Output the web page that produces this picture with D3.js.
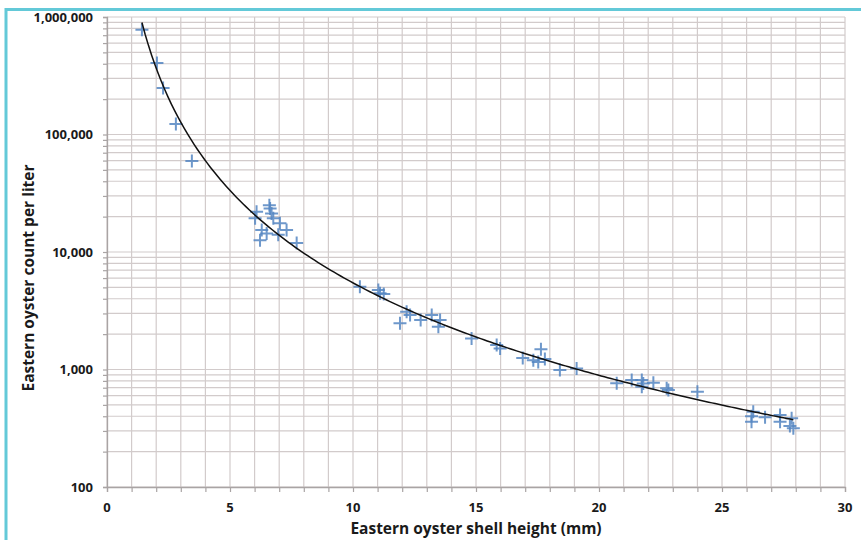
<!DOCTYPE html>
<html><head><meta charset="utf-8">
<script src="https://cdn.jsdelivr.net/npm/d3@7"></script>
<style>body{margin:0;background:#fff}svg{display:block}</style>
</head><body>
<svg id="c" width="861" height="540"></svg>
<script>
const shellHeight = [1.42, 2.03, 2.28, 2.80, 3.45,
  6.08, 6.02, 6.63, 6.69, 6.76, 6.29, 6.22, 6.49, 7.03, 7.30, 6.96, 7.71, 6.60,
  10.28, 11.03, 11.10, 11.25, 11.91, 12.18, 12.32, 12.75, 13.20, 13.54, 13.47,
  14.82, 15.84, 15.98, 16.90, 17.33, 17.53, 17.64, 17.80, 18.41, 19.09,
  20.72, 21.33, 21.74, 21.74, 21.80, 22.21, 22.75, 22.82, 24.00,
  26.20, 26.27, 26.20, 26.75, 27.36, 27.36, 27.83, 27.76, 27.90];
const countPerLiter = [780000, 406000, 249000, 123000, 59500,
  22000, 19400, 23500, 21300, 19400, 15400, 12600, 14400, 17600, 15400, 14000, 11900, 25000,
  5070, 4750, 4450, 4400, 2470, 3100, 2910, 2640, 2910, 2640, 2310,
  1840, 1620, 1510, 1250, 1200, 1160, 1490, 1230, 990, 1020,
  763, 814, 814, 714, 760, 772, 692, 669, 647,
  359, 437, 400, 392, 410, 359, 384, 330, 316];
const xTicks = [0, 5, 10, 15, 20, 25, 30];
const yTicks = [100, 1000, 10000, 100000, 1000000];
const xTitle = "Eastern oyster shell height (mm)";
const yTitle = "Eastern oyster count per liter";

const svg = d3.select("#c");
const L = 107, R = 845, T = 17, B = 487;
const x = d3.scaleLinear().domain([0, 30]).range([L, R]);
const y = d3.scaleLog().domain([100, 1000000]).range([B, T]);

// frame
svg.append("rect").attr("x", 6).attr("y", 9.5).attr("width", 900).attr("height", 600)
  .attr("fill", "none").attr("stroke", "#63c9d8").attr("stroke-width", 3);

const gridColor = "#d2cbcb";
const yMinor = [];
for (let d = 100; d < 1000000; d *= 10) for (let k = 1; k < 10; k++) yMinor.push(k * d);
yMinor.push(1000000);
const xMinor = d3.range(0, 31, 1);

const g = svg.append("g");
g.selectAll(".hg").data(yMinor).join("line")
  .attr("x1", L).attr("x2", R).attr("y1", d => y(d)).attr("y2", d => y(d))
  .attr("stroke", gridColor).attr("stroke-width", 1.2);
g.selectAll(".vg").data(xMinor).join("line")
  .attr("y1", T).attr("y2", B).attr("x1", d => x(d)).attr("x2", d => x(d))
  .attr("stroke", gridColor).attr("stroke-width", 1.2);

// axes
const axisColor = "#a9a4a4";
const yAx = svg.append("g").attr("transform", `translate(${L},0)`)
  .call(d3.axisLeft(y).tickValues(yMinor).tickSize(4).tickFormat(""));
const xAx = svg.append("g").attr("transform", `translate(0,${B})`)
  .call(d3.axisBottom(x).tickValues(xMinor).tickSize(5).tickFormat(""));
[yAx, xAx].forEach(a => {
  a.selectAll("path").attr("stroke", axisColor).attr("stroke-width", 1.3);
  a.selectAll("line").attr("stroke", axisColor).attr("stroke-width", 1.2);
});

const font = "'Open Sans', sans-serif";
svg.append("g").selectAll("text").data(yTicks).join("text")
  .attr("x", 93).attr("y", d => y(d)).attr("dy", "0.36em")
  .attr("text-anchor", "end").attr("font-family", font).attr("font-weight", 700)
  .attr("font-size", 13).attr("fill", "#1a1a1a").text(d3.format(","));
svg.append("g").selectAll("text").data(xTicks).join("text")
  .attr("x", d => x(d)).attr("y", 507).attr("dy", "0.36em")
  .attr("text-anchor", "middle").attr("font-family", font).attr("font-weight", 700)
  .attr("font-size", 13).attr("fill", "#1a1a1a").text(d => d);

svg.append("text").attr("x", (L + R) / 2).attr("y", 528).attr("dy", "0.36em")
  .attr("text-anchor", "middle").attr("font-family", font).attr("font-weight", 700)
  .attr("font-size", 15.5).attr("fill", "#1a1a1a").text(xTitle);
svg.append("text").attr("transform", `translate(28,278) rotate(-90)`).attr("dy", "0.36em")
  .attr("text-anchor", "middle").attr("font-family", font).attr("font-weight", 700)
  .attr("font-size", 15.5).attr("fill", "#1a1a1a").text(yTitle);

// points
const data = shellHeight.map((h, i) => ({ h, c: countPerLiter[i] }));
svg.append("g").selectAll("path").data(data).join("path")
  .attr("transform", d => `translate(${x(d.h)},${y(d.c)})`)
  .attr("d", "M-6.5,0H6.5M0,-6.5V6.5")
  .attr("stroke", "#5586c2").attr("stroke-width", 2).attr("stroke-opacity", 0.85)
  .attr("fill", "none");

// power trendline (least squares in log-log, as a spreadsheet power fit)
const lx = data.map(d => Math.log(d.h)), ly = data.map(d => Math.log(d.c));
const mx = d3.mean(lx), my = d3.mean(ly);
const b = d3.sum(lx.map((v, i) => (v - mx) * (ly[i] - my))) / d3.sum(lx.map(v => (v - mx) ** 2));
const a = Math.exp(my - b * mx);
const [x0, x1] = d3.extent(shellHeight);
const curve = d3.range(0, 201).map(i => x0 + (x1 - x0) * i / 200).map(v => [v, a * Math.pow(v, b)]);
svg.append("path").datum(curve)
  .attr("d", d3.line().x(d => x(d[0])).y(d => y(d[1])))
  .attr("fill", "none").attr("stroke", "#111").attr("stroke-width", 1.5);
</script>
</body></html>
